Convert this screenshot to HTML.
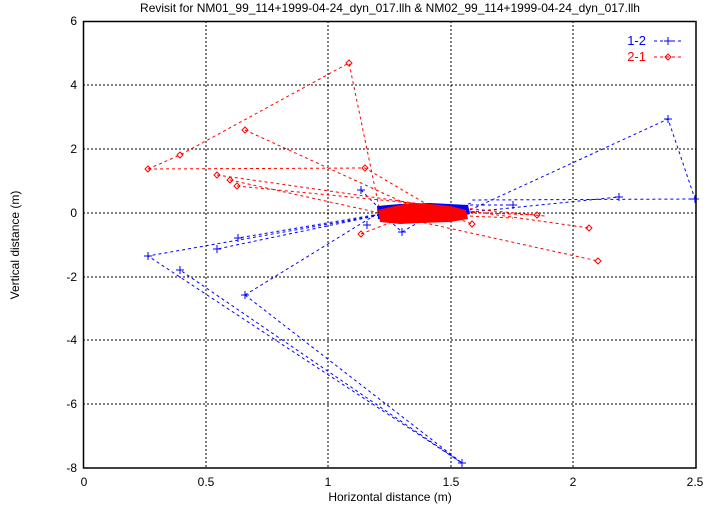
<!DOCTYPE html>
<html><head><style>body{margin:0;background:#fff}svg{display:block}</style></head><body>
<svg width="721" height="505" xmlns="http://www.w3.org/2000/svg" font-family="Liberation Sans, sans-serif" font-size="12">
<rect width="721" height="505" fill="#fff"/>
<g stroke="#000" stroke-width="1" stroke-dasharray="2,2">
<line x1="206" y1="21" x2="206" y2="468"/><line x1="328" y1="21" x2="328" y2="468"/><line x1="451" y1="21" x2="451" y2="468"/><line x1="573" y1="21" x2="573" y2="468"/>
<line x1="83" y1="85" x2="696" y2="85"/><line x1="83" y1="149" x2="696" y2="149"/><line x1="83" y1="213" x2="696" y2="213"/><line x1="83" y1="277" x2="696" y2="277"/><line x1="83" y1="340" x2="696" y2="340"/><line x1="83" y1="404" x2="696" y2="404"/>
</g>
<rect x="83.5" y="21.5" width="612.5" height="446.5" fill="none" stroke="#000" stroke-width="1.5"/>
<g text-anchor="end"><text x="77" y="25">6</text><text x="77" y="89">4</text><text x="77" y="153">2</text><text x="77" y="217">0</text><text x="77" y="281">-2</text><text x="77" y="344">-4</text><text x="77" y="408">-6</text><text x="77" y="472">-8</text></g>
<g text-anchor="middle"><text x="84" y="486">0</text><text x="206" y="486">0.5</text><text x="328" y="486">1</text><text x="451" y="486">1.5</text><text x="573" y="486">2</text><text x="695" y="486">2.5</text>
<text x="390" y="501">Horizontal distance (m)</text>
<text x="390" y="12">Revisit for NM01_99_114+1999-04-24_dyn_017.llh &amp; NM02_99_114+1999-04-24_dyn_017.llh</text>
<text transform="translate(19,245) rotate(-90)">Vertical distance (m)</text></g>
<text x="646" y="45" fill="#00f" text-anchor="end" font-size="13">1-2</text>
<text x="646" y="61" fill="#f00" text-anchor="end" font-size="13">2-1</text>
<g fill="none" stroke-width="1" stroke-dasharray="3,3">
<path stroke="#00f" d="M654 41H682 M380 215L148 256L462 463L180 270 M245 295L462 463 M245 295L380 212 M380 215L217 249 M380 214L238 238 M361 190L385 214 M402 232L440 210 M470 210L668 119L695 199L470 200 M470 212L619 197 M470 205L513 205 M440 215L471 203 M380 212L402 232"/>
<path stroke="#f00" d="M654 57H682 M148 169L180 155L349 63L380 212 M245 130L420 210 M148 169L365 168L440 212 M217 175L589 228 M230 180L598 261 M237 186L545 216 M460 212L537 215 M440 212L472 224 M361 234L410 215 M380 212L513 218"/>
</g>
<g stroke-width="1" fill="none">
<path stroke="#00f" d="M664 41h8M668 37v8 M144 256h8M148 252v8 M176 270h8M180 266v8 M213 249h8M217 245v8 M234 238h8M238 234v8 M357 190h8M361 186v8 M363 225h8M367 221v8 M398 232h8M402 228v8 M509 205h8M513 201v8 M615 197h8M619 193v8 M664 119h8M668 115v8 M691 199h8M695 195v8 M458 463h8M462 459v8 M241 295h8M245 291v8"/>
<path stroke="#f00" d="M668 54l3 3-3 3-3-3z M349 60l3 3-3 3-3-3z M180 152l3 3-3 3-3-3z M148 166l3 3-3 3-3-3z M245 127l3 3-3 3-3-3z M217 172l3 3-3 3-3-3z M230 177l3 3-3 3-3-3z M237 183l3 3-3 3-3-3z M365 165l3 3-3 3-3-3z M361 231l3 3-3 3-3-3z M589 225l3 3-3 3-3-3z M598 258l3 3-3 3-3-3z M472 221l3 3-3 3-3-3z M537 212l3 3-3 3-3-3z"/>
</g>
<path fill="#00f" d="M377 206L400 204L430 203L468 205L470 214L455 218L420 220L400 222L378 219Z"/>
<path fill="#f00" d="M378 210L395 206L410 203L430 204L450 206L466 210L468 219L450 222L420 223L400 224L380 222Z"/>
</svg>
</body></html>
